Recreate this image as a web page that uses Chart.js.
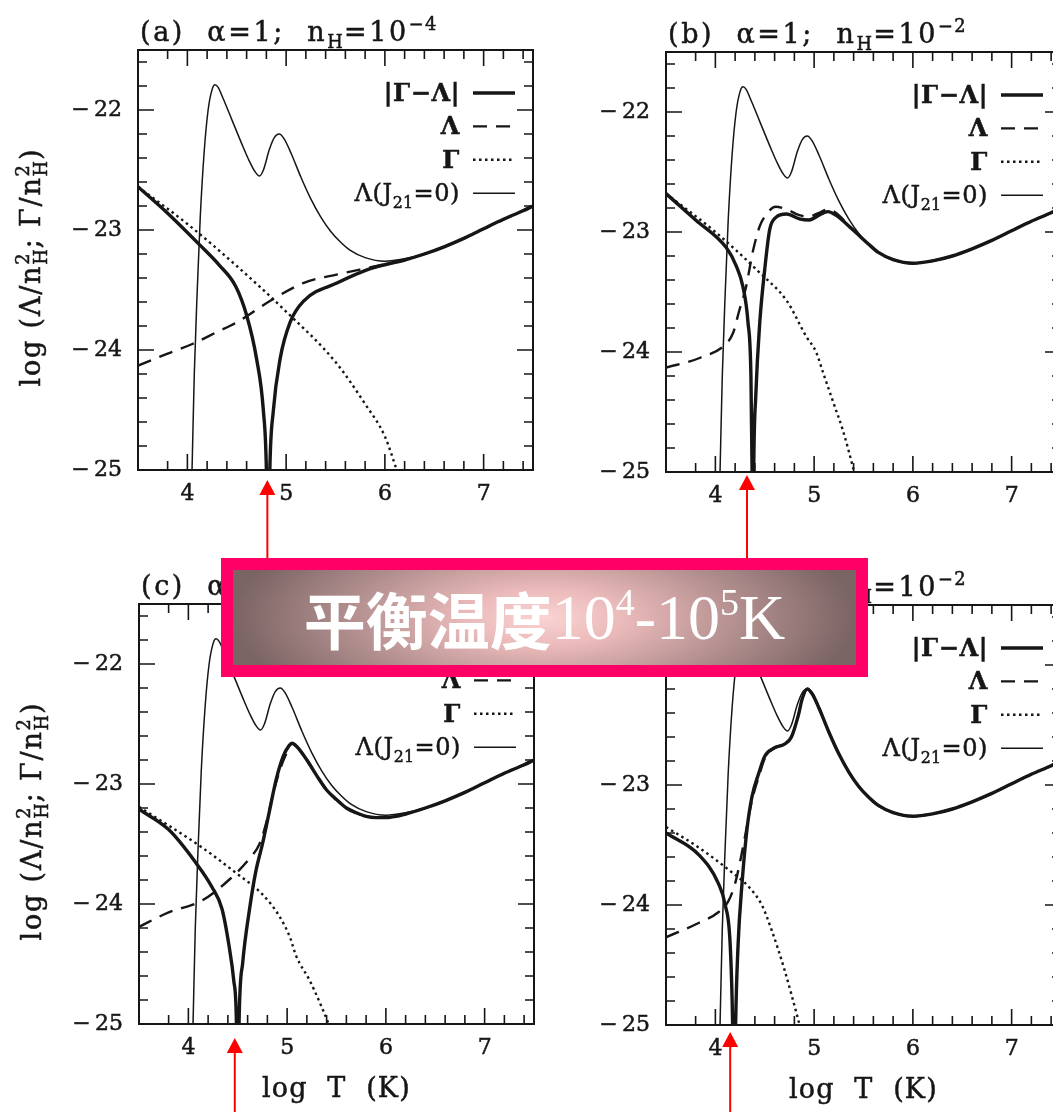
<!DOCTYPE html>
<html>
<head>
<meta charset="utf-8">
<script src="https://cdn.jsdelivr.net/npm/chart.js@4.4.1/dist/chart.umd.min.js"></script>
<style>
  html, body { margin: 0; padding: 0; background: #fff; width: 1053px; height: 1112px; overflow: hidden; position: relative; }
  canvas.panel { position: absolute; }
  #banner {
    position: absolute; left: 221px; top: 558px; width: 647px; height: 119px;
    box-sizing: border-box; border: 12px solid #ff0066;
    background: radial-gradient(ellipse 50% 120% at 50% 50%, #fad3d3 0%, #ebbaba 25%, #b99494 58%, #7b6464 100%);
    display: flex; align-items: center; justify-content: center;
    color: #fff; white-space: nowrap; z-index: 5;
  }
  #banner .cjk { font-family: "Noto Sans CJK SC"; font-weight: 700; font-size: 62px; line-height: 1; }
  #banner .num { font-family: "Liberation Serif"; font-size: 64px; line-height: 1; }
  #banner .num sup { font-size: 38px; vertical-align: 0; position: relative; top: -0.62em; }
</style>
</head>
<body>
<canvas id="pa" class="panel" width="545" height="558" style="left:0px;top:0px"></canvas>
<canvas id="pb" class="panel" width="545" height="556" style="left:528px;top:2px"></canvas>
<canvas id="pc" class="panel" width="545" height="558" style="left:1px;top:554px"></canvas>
<canvas id="pd" class="panel" width="545" height="557" style="left:528px;top:555px"></canvas>
<div id="banner"><span class="cjk">平衡温度</span><span class="num">10<sup>4</sup>-10<sup>5</sup>K</span></div>

<script>
// ---- data: log T (K) and log of cooling / heating rates per n_H^2 ----

// Λ(J21=0): cooling without a radiation field (identical in every panel)
const j0T = [4.03, 4.05, 4.07, 4.10, 4.13, 4.17, 4.21, 4.25, 4.28, 4.31, 4.36, 4.45, 4.55, 4.63, 4.69, 4.73, 4.77, 4.83, 4.88, 4.93, 4.98, 5.05, 5.15, 5.25, 5.35, 5.45, 5.55, 5.65, 5.80, 6.00, 6.20, 6.40, 6.60, 6.80, 7.00, 7.20, 7.40, 7.50];
const j0 = [-25.6, -24.9, -24.2, -23.5, -22.9, -22.35, -22.0, -21.83, -21.79, -21.81, -21.9, -22.08, -22.28, -22.43, -22.52, -22.55, -22.50, -22.33, -22.23, -22.20, -22.24, -22.36, -22.56, -22.74, -22.89, -23.01, -23.10, -23.17, -23.23, -23.26, -23.24, -23.20, -23.14, -23.07, -22.99, -22.91, -22.84, -22.80];

// (a) alpha = 1, n_H = 1e-4
const aHeatT = [3.5, 4.0, 4.5, 5.0, 5.5, 5.8, 6.0, 6.12, 6.2];
const aHeat = [-22.64, -22.95, -23.30, -23.68, -24.10, -24.45, -24.72, -25.0, -25.2];
const aCoolT = [3.5, 3.8, 4.05, 4.3, 4.5, 4.84, 5.18, 5.52, 5.86, 6.2, 6.6, 7.0, 7.5];
const aCool = [-24.13, -24.03, -23.95, -23.85, -23.77, -23.59, -23.44, -23.37, -23.31, -23.25, -23.14, -22.99, -22.80];
const aNetT = [3.5, 3.8, 4.12, 4.32, 4.49, 4.60, 4.70, 4.77, 4.80, 4.817, 4.835, 4.87, 4.94, 5.04, 5.18, 5.52, 5.86, 6.2, 6.4, 6.6, 6.8, 7.0, 7.2, 7.4, 7.5];
const aNet = [-22.64, -22.86, -23.12, -23.29, -23.47, -23.71, -24.07, -24.51, -25.0, -26.0, -25.0, -24.51, -24.07, -23.77, -23.59, -23.44, -23.32, -23.25, -23.20, -23.14, -23.07, -22.99, -22.91, -22.84, -22.80];

// (b) alpha = 1, n_H = 1e-2
const bHeatT = [3.5, 4.0, 4.45, 4.72, 4.92, 5.02, 5.09, 5.19, 5.29, 5.39, 5.45];
const bHeat = [-22.68, -23.0, -23.34, -23.57, -23.87, -24.0, -24.17, -24.41, -24.65, -24.95, -25.15];
const bCoolT = [3.5, 3.84, 4.11, 4.18, 4.24, 4.31, 4.38, 4.45, 4.51, 4.61, 4.72, 4.85, 4.95, 5.05, 5.14, 5.22, 5.39, 5.55, 5.65, 5.80, 6.0, 6.2, 6.4, 6.6, 6.8, 7.0, 7.2, 7.4, 7.5];
const bCool = [-24.13, -24.05, -23.93, -23.84, -23.66, -23.46, -23.16, -22.95, -22.86, -22.79, -22.81, -22.86, -22.87, -22.84, -22.81, -22.84, -22.98, -23.10, -23.17, -23.23, -23.26, -23.24, -23.20, -23.14, -23.07, -22.99, -22.91, -22.84, -22.80];
const bNetT = [3.5, 3.8, 4.11, 4.21, 4.28, 4.33, 4.36, 4.372, 4.38, 4.388, 4.41, 4.45, 4.50, 4.55, 4.61, 4.72, 4.85, 4.95, 5.05, 5.14, 5.22, 5.39, 5.55, 5.65, 5.80, 6.0, 6.2, 6.4, 6.6, 6.8, 7.0, 7.2, 7.4, 7.5];
const bNet = [-22.68, -22.90, -23.13, -23.28, -23.46, -23.75, -24.2, -25.0, -26.0, -25.0, -24.35, -23.75, -23.31, -22.98, -22.88, -22.85, -22.89, -22.90, -22.86, -22.83, -22.86, -22.98, -23.10, -23.17, -23.23, -23.26, -23.24, -23.20, -23.14, -23.07, -22.99, -22.91, -22.84, -22.80];

// (c) alpha = 5, n_H = 1e-4
const cHeatT = [3.5, 4.14, 4.48, 4.75, 4.92, 5.03, 5.09, 5.23, 5.33, 5.42, 5.5];
const cHeat = [-23.19, -23.53, -23.74, -23.92, -24.10, -24.28, -24.43, -24.64, -24.82, -25.0, -25.2];
const cCoolT = [3.5, 3.8, 4.14, 4.41, 4.62, 4.72, 4.79, 4.85, 4.92, 4.99, 5.05, 5.1, 5.2, 5.3, 5.4, 5.5, 5.6, 5.7, 5.8, 5.9, 6.0, 6.1, 6.2, 6.4, 6.6, 6.8, 7.0, 7.2, 7.4, 7.5];
const cCool = [-24.19, -24.07, -23.97, -23.80, -23.62, -23.50, -23.32, -23.11, -22.90, -22.75, -22.66, -22.69, -22.80, -22.93, -23.05, -23.13, -23.20, -23.24, -23.27, -23.28, -23.28, -23.27, -23.25, -23.20, -23.14, -23.07, -22.99, -22.91, -22.84, -22.80];
const cNetT = [3.5, 3.8, 4.07, 4.24, 4.34, 4.41, 4.46, 4.487, 4.50, 4.513, 4.55, 4.62, 4.68, 4.75, 4.82, 4.89, 4.96, 5.02, 5.05, 5.1, 5.2, 5.3, 5.4, 5.5, 5.6, 5.7, 5.8, 5.9, 6.0, 6.1, 6.2, 6.4, 6.6, 6.8, 7.0, 7.2, 7.4, 7.5];
const cNet = [-23.21, -23.38, -23.65, -23.86, -24.04, -24.34, -24.64, -25.0, -26.0, -25.0, -24.49, -24.04, -23.74, -23.50, -23.23, -22.96, -22.77, -22.68, -22.66, -22.69, -22.80, -22.93, -23.05, -23.13, -23.20, -23.24, -23.27, -23.28, -23.28, -23.27, -23.25, -23.20, -23.14, -23.07, -22.99, -22.91, -22.84, -22.80];

// (d) alpha = 5, n_H = 1e-2
const dHeatT = [3.5, 3.83, 4.17, 4.34, 4.47, 4.57, 4.70, 4.84, 4.9];
const dHeat = [-23.35, -23.52, -23.73, -23.85, -24.0, -24.21, -24.54, -24.96, -25.15];
const dCoolT = [3.5, 3.83, 4.03, 4.13, 4.20, 4.25, 4.30, 4.37, 4.44, 4.50, 4.60, 4.70, 4.77, 4.84, 4.88, 4.93, 4.98, 5.05, 5.15, 5.25, 5.35, 5.45, 5.55, 5.65, 5.80, 6.00, 6.20, 6.40, 6.60, 6.80, 7.00, 7.20, 7.40, 7.50];
const dCool = [-24.27, -24.15, -24.06, -23.97, -23.82, -23.64, -23.43, -23.13, -22.93, -22.78, -22.69, -22.66, -22.60, -22.42, -22.28, -22.20, -22.24, -22.36, -22.56, -22.74, -22.89, -23.01, -23.10, -23.17, -23.23, -23.26, -23.24, -23.20, -23.14, -23.07, -22.99, -22.91, -22.84, -22.80];
const dNetT = [3.5, 3.83, 4.03, 4.10, 4.15, 4.175, 4.19, 4.205, 4.23, 4.27, 4.32, 4.37, 4.44, 4.50, 4.60, 4.70, 4.77, 4.84, 4.88, 4.93, 4.98, 5.05, 5.15, 5.25, 5.35, 5.45, 5.55, 5.65, 5.80, 6.00, 6.20, 6.40, 6.60, 6.80, 7.00, 7.20, 7.40, 7.50];
const dNet = [-23.40, -23.58, -23.82, -24.0, -24.33, -25.0, -26.0, -25.0, -24.33, -23.82, -23.37, -23.10, -22.90, -22.76, -22.69, -22.66, -22.60, -22.42, -22.28, -22.20, -22.24, -22.36, -22.56, -22.74, -22.89, -23.01, -23.10, -23.17, -23.23, -23.26, -23.24, -23.20, -23.14, -23.07, -22.99, -22.91, -22.84, -22.80];

// axes, labels and marked equilibrium temperatures
const xTicks = [4, 5, 6, 7];
const yTicks = [-25, -24, -23, -22];
const seriesLabels = ['|Γ−Λ|', 'Λ', 'Γ', 'Λ(J_{21}=0)'];
const panelTitles = ['(a)  α=1;  n_{H}=10^{−4}', '(b)  α=1;  n_{H}=10^{−2}', '(c)  α=5;  n_{H}=10^{−4}', '(d)  α=5;  n_{H}=10^{−2}'];
const xTitle = 'log  T  (K)';
const yTitle = 'log (Λ/n^{2}_{H}; Γ/n^{2}_{H})';
const equilibriumLogT = [4.81, 4.32, 4.47, 4.15];

// ---- drawing ----
const INK = '#161616';
const SERIF = '"DejaVu Serif", serif';

const pts = (xs, ys) => xs.map((x, i) => ({ x, y: ys[i] }));

// tiny rich-text renderer: _{..} subscript, ^{..} superscript, sup+sub pairs stack;
// optional letter spacing and a faint outline to give the heavier print weight
function parseRich(s) {
  const out = []; const re = /([_^])\{([^}]*)\}/g; let last = 0, m;
  while ((m = re.exec(s))) {
    if (m.index > last) out.push({ t: s.slice(last, m.index), k: '' });
    out.push({ t: m[2], k: m[1] }); last = re.lastIndex;
  }
  if (last < s.length) out.push({ t: s.slice(last), k: '' });
  return out;
}
function runWidth(ctx, t, ls) {
  let w = 0; for (const ch of t) w += ctx.measureText(ch).width + ls; return w;
}
function drawRich(ctx, s, x, y, size, o = {}) {
  const ls = o.ls || 0;
  const segs = parseRich(s);
  const small = size * 0.66;
  const font = sz => `${o.weight || 'normal'} ${sz}px ${SERIF}`;
  const items = []; let w = 0;
  const shift = k => (k === '^' ? -size * 0.42 : size * 0.27);
  for (let i = 0; i < segs.length; i++) {
    const sg = segs[i];
    if (!sg.k) {
      ctx.font = font(size); items.push({ t: sg.t, x: w, dy: 0, sz: size }); w += runWidth(ctx, sg.t, ls);
    } else {
      ctx.font = font(small);
      const mw = runWidth(ctx, sg.t, ls * 0.5);
      items.push({ t: sg.t, x: w, dy: shift(sg.k), sz: small, ls: ls * 0.5 });
      const nx = segs[i + 1];
      if (nx && nx.k && nx.k !== sg.k) {
        const mw2 = runWidth(ctx, nx.t, ls * 0.5);
        items.push({ t: nx.t, x: w, dy: shift(nx.k), sz: small, ls: ls * 0.5 });
        w += Math.max(mw, mw2); i++;
      } else w += mw;
    }
  }
  const x0 = o.align === 'right' ? x - w : o.align === 'center' ? x - w / 2 : x;
  ctx.textAlign = 'left'; ctx.textBaseline = 'alphabetic';
  ctx.fillStyle = INK; ctx.strokeStyle = INK; ctx.lineWidth = 0.5; ctx.setLineDash([]);
  for (const it of items) {
    ctx.font = font(it.sz);
    const l = it.ls !== undefined ? it.ls : ls;
    let cx = x0 + it.x;
    for (const ch of it.t) {
      ctx.fillText(ch, cx, y + it.dy); ctx.strokeText(ch, cx, y + it.dy);
      cx += ctx.measureText(ch).width + l;
    }
  }
  return w;
}

// frame with inward ticks on all sides, titles, legend, marker arrow
const decor = {
  id: 'decor',
  afterDatasetsDraw(chart, args, opts) {
    const { ctx, chartArea: a, scales: { x, y } } = chart;
    ctx.save();
    ctx.strokeStyle = INK; ctx.lineCap = 'butt'; ctx.setLineDash([]);
    ctx.lineWidth = 2;
    ctx.strokeRect(a.left, a.top, a.right - a.left, a.bottom - a.top);
    ctx.lineWidth = 1.6;
    ctx.beginPath();
    for (let v = Math.round(x.min * 5) + 1; v < Math.round(x.max * 5); v++) {
      const px = x.getPixelForValue(v / 5); const L = v % 5 === 0 ? 16 : 9;
      ctx.moveTo(px, a.bottom); ctx.lineTo(px, a.bottom - L);
      ctx.moveTo(px, a.top); ctx.lineTo(px, a.top + L);
    }
    for (let v = Math.round(y.min * 5) + 1; v < Math.round(y.max * 5); v++) {
      const py = y.getPixelForValue(v / 5); const L = v % 5 === 0 ? 16 : 9;
      ctx.moveTo(a.left, py); ctx.lineTo(a.left + L, py);
      ctx.moveTo(a.right, py); ctx.lineTo(a.right - L, py);
    }
    ctx.stroke();

    // panel title
    drawRich(ctx, opts.title, a.left + 2, a.top - 9, 27, { ls: 2.6 });

    // axis titles
    if (opts.yTitle) {
      ctx.save();
      ctx.translate(40, (a.top + a.bottom) / 2 + 7);
      ctx.rotate(-Math.PI / 2);
      drawRich(ctx, yTitle, 0, 0, 27, { align: 'center', ls: 1.8 });
      ctx.restore();
    }
    if (opts.xTitle) {
      drawRich(ctx, xTitle, (a.left + a.right) / 2, a.bottom + 73, 27, { align: 'center', ls: 1.2 });
    }

    // legend
    const textRight = a.right - 73, s0 = a.right - 60, s1 = a.right - 18;
    chart.data.datasets.forEach((ds, i) => {
      const yy = a.top + 43 + i * 33.4;
      drawRich(ctx, ds.label, textRight, yy + 8, 24, { align: 'right', weight: i < 3 ? 'bold' : 'normal', ls: 0.6 });
      ctx.beginPath();
      ctx.strokeStyle = INK;
      ctx.lineWidth = ds.borderWidth; ctx.setLineDash(ds.borderDash || []);
      ctx.moveTo(s0, yy); ctx.lineTo(s1, yy); ctx.stroke();
    });
    ctx.setLineDash([]);

    // arrow marking the equilibrium temperature
    const ax = x.getPixelForValue(opts.arrowT);
    const tip = a.bottom + opts.arrowGap;
    ctx.fillStyle = '#ff0000'; ctx.strokeStyle = '#ff0000'; ctx.lineWidth = 2;
    ctx.beginPath(); ctx.moveTo(ax, tip + 12); ctx.lineTo(ax, chart.height); ctx.stroke();
    ctx.beginPath(); ctx.moveTo(ax, tip); ctx.lineTo(ax - 8, tip + 15); ctx.lineTo(ax + 8, tip + 15); ctx.closePath(); ctx.fill();
    ctx.restore();
  }
};

function makeDatasets(net, cool, heat) {
  const base = { borderColor: INK, pointRadius: 0, fill: false, cubicInterpolationMode: 'monotone', clip: 0 };
  return [
    Object.assign({}, base, { label: seriesLabels[0], data: net, borderWidth: 3.4, borderDash: [] }),
    Object.assign({}, base, { label: seriesLabels[1], data: cool, borderWidth: 2.4, borderDash: [14, 9] }),
    Object.assign({}, base, { label: seriesLabels[2], data: heat, borderWidth: 2.4, borderDash: [2.5, 3.5] }),
    Object.assign({}, base, { label: seriesLabels[3], data: pts(j0T, j0), borderWidth: 1.5, borderDash: [] }),
  ];
}

const fmtY = v => '−\u2009' + Math.abs(v);
const tickFont = { family: SERIF, size: 22 };

function makePanel(id, idx, sets, showY, showX, arrowGap) {
  const cv = document.getElementById(id);
  return new Chart(cv, {
    type: 'line',
    data: { datasets: sets },
    options: {
      responsive: false, animation: false, devicePixelRatio: 1,
      layout: { padding: { top: 50, right: cv.width - 533, left: 0, bottom: 0 } },
      plugins: {
        legend: { display: false }, tooltip: { enabled: false },
        decor: { title: panelTitles[idx], yTitle: showY, xTitle: showX, arrowT: equilibriumLogT[idx], arrowGap }
      },
      scales: {
        x: {
          type: 'linear', min: 3.5, max: 7.5,
          afterBuildTicks: s => { s.ticks = xTicks.map(v => ({ value: v })); },
          afterFit: s => { s.height = s.chart.height - 470; },
          grid: { display: false, drawTicks: false }, border: { display: false },
          ticks: { padding: 11, color: INK, font: tickFont, textStrokeColor: INK, textStrokeWidth: 0.5, callback: v => String(v) }
        },
        y: {
          type: 'linear', min: -25, max: -21.5,
          afterBuildTicks: s => { s.ticks = yTicks.map(v => ({ value: v })); },
          afterFit: s => { s.width = 138; },
          grid: { display: false, drawTicks: false }, border: { display: false },
          ticks: { padding: 16, color: INK, font: tickFont, textStrokeColor: INK, textStrokeWidth: 0.5, callback: fmtY }
        }
      }
    },
    plugins: [decor]
  });
}

makePanel('pa', 0, makeDatasets(pts(aNetT, aNet), pts(aCoolT, aCool), pts(aHeatT, aHeat)), true, false, 10);
makePanel('pb', 1, makeDatasets(pts(bNetT, bNet), pts(bCoolT, bCool), pts(bHeatT, bHeat)), false, false, 3);
makePanel('pc', 2, makeDatasets(pts(cNetT, cNet), pts(cCoolT, cCool), pts(cHeatT, cHeat)), true, true, 14);
makePanel('pd', 3, makeDatasets(pts(dNetT, dNet), pts(dCoolT, dCool), pts(dHeatT, dHeat)), false, true, 7);
</script>
</body>
</html>
